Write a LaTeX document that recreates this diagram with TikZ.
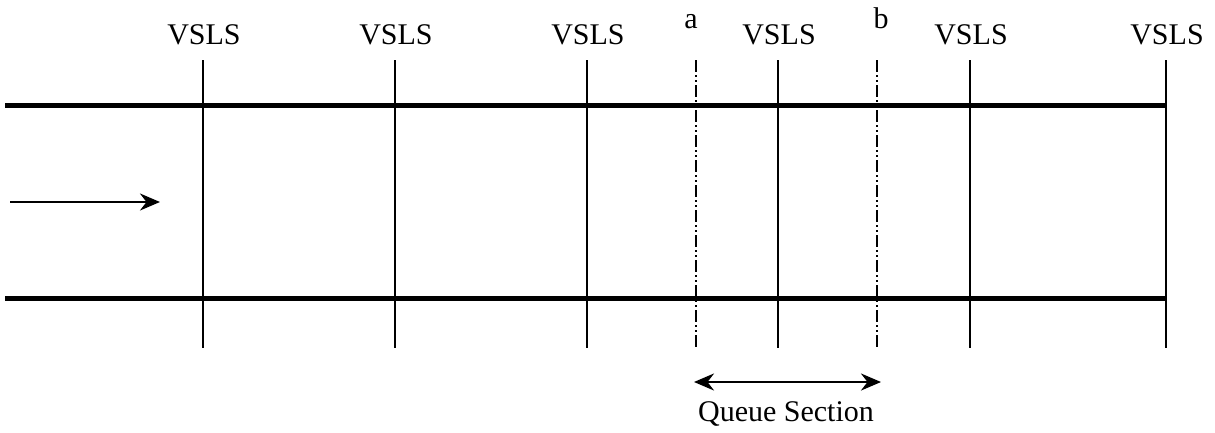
\documentclass[tikz,border=0pt]{standalone}
\usepackage{fontspec}
\setmainfont{Liberation Serif}
\usetikzlibrary{arrows.meta}
\begin{document}
\begin{tikzpicture}[x=1pt,y=-1pt,
  road/.style={line width=5pt},
  sls/.style={line width=2.2pt},
  qline/.style={line width=2.2pt,dash pattern=on 12pt off 3pt on 2pt off 3pt on 2pt off 3pt},
  lbl/.style={font=\fontsize{30}{32}\selectfont,inner sep=0pt},
  arr/.style={line width=2.5pt,-{Stealth[length=20pt,width=17pt]}},
  darr/.style={line width=2.5pt,{Stealth[length=20pt,width=17pt]}-{Stealth[length=20pt,width=17pt]}}]
\useasboundingbox (0,0) rectangle (1215,432);
% road edges
\coordinate (tl) at (5,105);
\coordinate (tr) at (1167,105);
\coordinate (bl) at (5,298);
\coordinate (br) at (1167,298);
\draw[road] (tl) -- (tr);
\draw[road] (bl) -- (br);
% VSLS lines
\foreach \i/\x in {1/203,2/395,3/587,4/778,5/970,6/1166}{
  \coordinate (s\i t) at (\x,60);
  \coordinate (s\i b) at (\x,348);
  \draw[sls] (s\i t) -- (s\i b);
  \node[lbl,anchor=base] (v\i) at (\x+1,44) {VSLS};
}
% queue section boundaries
\coordinate (at) at (696,60);
\coordinate (ab) at (696,348);
\coordinate (bt) at (877,60);
\coordinate (bb) at (877,348);
\draw[qline] (at) -- (ab);
\draw[qline] (bt) -- (bb);
\node[lbl,anchor=base] (la) at (691,28) {a};
\node[lbl,anchor=base] (lb) at (881,28) {b};
% traffic direction
\coordinate (d1) at (10,202);
\coordinate (d2) at (160,202);
\draw[arr] (d1) -- (d2);
% queue section
\coordinate (q1) at (694,382);
\coordinate (q2) at (881,382);
\draw[darr] (q1) -- (q2);
\node[lbl,anchor=base] (qs) at (786,421) {Queue Section};
\end{tikzpicture}
\end{document}
